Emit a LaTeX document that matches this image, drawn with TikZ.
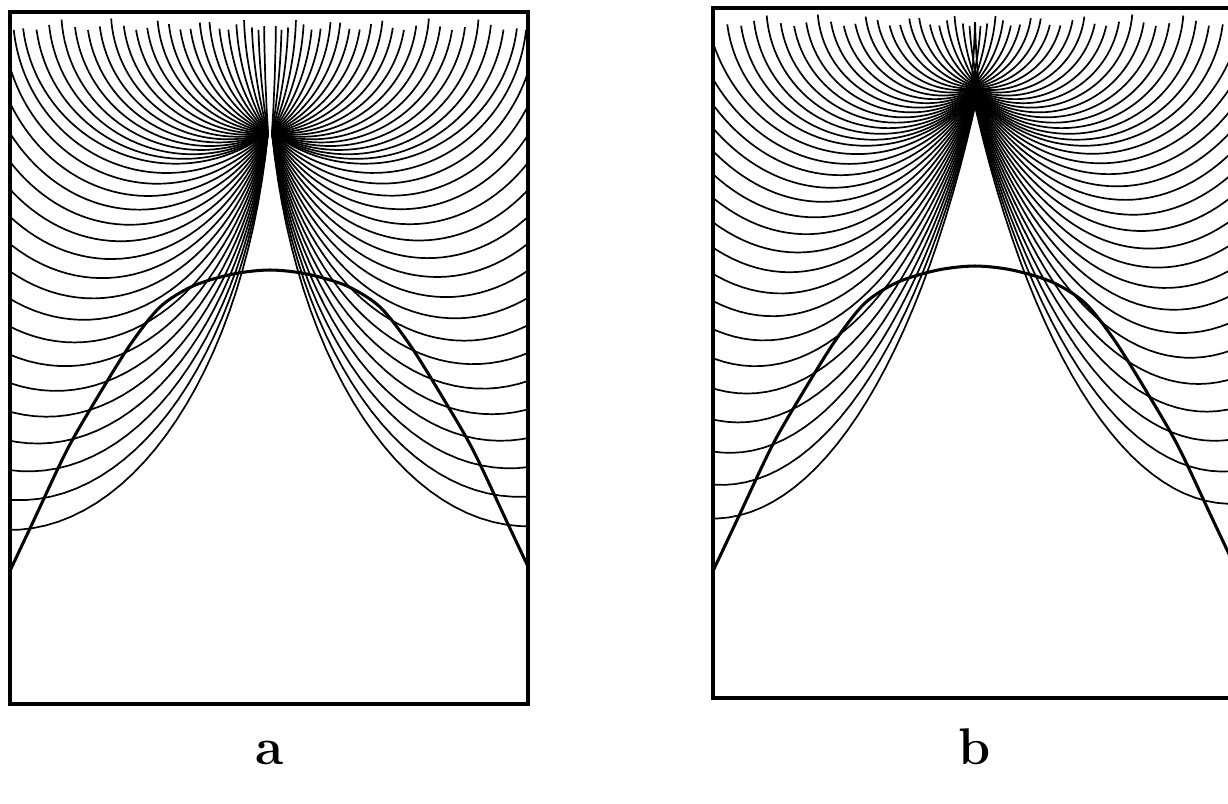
\documentclass[tikz,border=0pt]{standalone}
\usepackage{tikz}
\tikzset{
  ray/.style={line width=1.45pt, line join=round},
  bell/.style={line width=2.6pt, line join=round},
  frame/.style={line width=3.2pt},
  lbl/.style={font=\fontsize{44}{48}\selectfont\bfseries, anchor=base, inner sep=0pt}
}
% #1 xF, #2 yF, #3 y0, #4 x of left frame, #5 kappa, #6 dmax, #7 top end level, #8 rho
\newcommand\rayfamily[8]{%
  \pgfmathsetmacro\xF{#1}\pgfmathsetmacro\yF{#2}\pgfmathsetmacro\yO{#3}%
  \pgfmathsetmacro\h{\yF-\yO}%
  \foreach \j in {1,...,24}{%
    \pgfmathsetmacro\d{#6*(\j/24)^1.3}%
    \pgfmathsetmacro\r{(\d*\d+\h*\h)/(2*\d)}%
    \pgfmathsetmacro\c{\xF-\d+\r}%
    \pgfmathsetmacro\ye{#7+0.12*abs(sin(\j*137.5))}%
    \pgfmathsetmacro\tF{atan2(\h,\xF-\c)}%
    \pgfmathsetmacro\te{180-asin((\ye-\yO)/\r)}%
    \draw[ray] plot[domain=\tF:\te,samples=40,variable=\t] ({\c+\r*cos(\t)},{\yO+\r*sin(\t)});
  }%
  \pgfmathsetmacro\cT{\xF-#6+(#6*#6+\h*\h)/(2*#6)}%
  \foreach \j in {1,...,18}{%
    \pgfmathsetmacro\lam{\j/18}%
    \pgfmathsetmacro\cx{\cT-\lam*(\cT-#4)}%
    \pgfmathsetmacro\cy{\yO+#8*\h*\lam}%
    \pgfmathsetmacro\k{1+#5*\lam}%
    \pgfmathsetmacro\ea{sqrt((\xF-\cx)^2+((\yF-\cy)/\k)^2)}%
    \pgfmathsetmacro\eb{\k*\ea}%
    \pgfmathsetmacro\tF{atan2((\yF-\cy)/\eb,(\xF-\cx)/\ea)}%
    \pgfmathsetmacro\ye{#7+0.12*abs(sin(\j*97.3))}%
    \pgfmathsetmacro\te{min(180,180-asin((\ye-\cy)/\eb))}%
    \draw[ray] plot[domain=\tF:\te,samples=60,variable=\t] ({\cx+\ea*cos(\t)},{\cy+\eb*sin(\t)});
  }%
}
\begin{document}
\begin{tikzpicture}[x=3cm,y=-3cm]
\useasboundingbox (0,0) rectangle (12.28,8.03);
\fill[white] (0,0) rectangle (12.28,8.03);
% ---------- panel a ----------
\begin{scope}
  \clip (0.10,0.12) rectangle (5.28,7.04);
  \rayfamily{2.68}{1.33}{0.10}{0.10}{0.8425}{2.46}{0.18}{0.3}
  \begin{scope}[shift={(5.40,0)},xscale=-1]
    \rayfamily{2.68}{1.33}{0.10}{0.12}{0.8425}{2.46}{0.18}{0.3}
  \end{scope}
  \draw[bell] plot[smooth] coordinates {(0.08,5.75) (0.33,5.22) (0.67,4.50) (0.97,3.98) (1.30,3.45) (1.60,3.07) (1.93,2.86) (2.33,2.74) (2.70,2.70) (3.07,2.74) (3.47,2.86) (3.80,3.07) (4.10,3.45) (4.43,3.98) (4.73,4.50) (5.07,5.22) (5.32,5.75)};
\end{scope}
\draw[frame] (0.10,0.12) rectangle (5.28,7.04);
% ---------- panel b ----------
\begin{scope}
  \clip (7.13,0.08) rectangle (12.31,6.98);
  \rayfamily{9.79}{0.88}{0.06}{7.13}{1.90}{2.53}{0.14}{-4.8}
  \begin{scope}[shift={(19.50,0)},xscale=-1]
    \rayfamily{9.79}{0.88}{0.06}{7.19}{1.90}{2.53}{0.14}{-4.8}
  \end{scope}
  \draw[bell] plot[smooth] coordinates {(7.13,5.71) (7.38,5.18) (7.72,4.46) (8.02,3.94) (8.35,3.41) (8.65,3.03) (8.98,2.82) (9.38,2.70) (9.75,2.66) (10.12,2.70) (10.52,2.82) (10.85,3.03) (11.15,3.41) (11.48,3.94) (11.78,4.46) (12.12,5.18) (12.37,5.71)};
\end{scope}
\draw[frame] (7.13,0.08) rectangle (12.31,6.98);
% ---------- labels ----------
\node[lbl] (la) at (2.70,7.64) {a};
\node[lbl] (lb) at (9.75,7.64) {b};
\end{tikzpicture}
\end{document}
